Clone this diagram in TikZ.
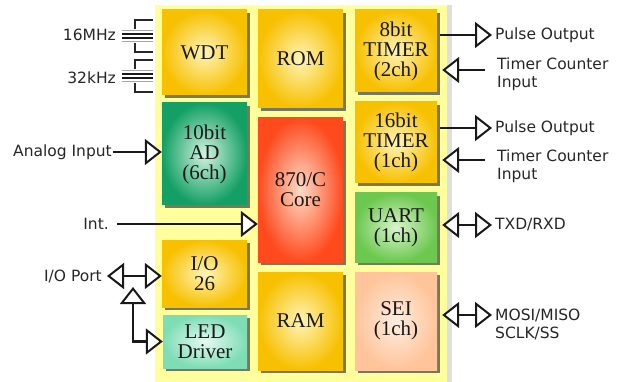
\documentclass[tikz,border=0pt]{standalone}
\usepackage{fontspec}
\setmainfont{Liberation Serif}
\newfontfamily\labelfont{DejaVu Sans}
\usetikzlibrary{arrows.meta,shadows}

\definecolor{plate}{HTML}{FFFF9E}
\definecolor{goldin}{HTML}{FFF4B8}
\definecolor{goldout}{HTML}{F7C000}
\definecolor{adin}{HTML}{D2F3E0}
\definecolor{adout}{HTML}{14A064}
\definecolor{corein}{HTML}{FFDCC8}
\definecolor{coreout}{HTML}{FF4A1E}
\definecolor{uartin}{HTML}{DAF3CE}
\definecolor{uartout}{HTML}{6CC84E}
\definecolor{ledin}{HTML}{E4FAF1}
\definecolor{ledout}{HTML}{7EDDB5}
\definecolor{seiin}{HTML}{FFEDE0}
\definecolor{seiout}{HTML}{FFC49A}

\begin{document}
\begin{tikzpicture}[x=1pt,y=-1pt,
  >={Triangle[length=17pt,width=26pt,line width=2pt,fill=white]},
  block/.style={draw=none, align=center, inner sep=0pt, text=black!90,
    font=\fontsize{21}{20}\selectfont,
    drop shadow={shadow xshift=3pt,shadow yshift=-3pt,fill=black!75,opacity=.7}},
  gold/.style={inner color=goldin, outer color=goldout},
  sig/.style={line width=2.5pt, black!90},
  lbl/.style={font=\labelfont\fontsize{15.5}{18}\selectfont, text=black!85, inner sep=1pt, align=left}]
	\useasboundingbox (0,0) rectangle (621,382);
	%chip plate
	\node[fill=plate, minimum width=292pt, minimum height=380pt,
	  drop shadow={shadow xshift=5pt,shadow yshift=0pt,opacity=.25}] (chip) at (301,195) {};
	%left column
	\node[block, gold, minimum width=85pt, minimum height=85pt] (wdt) at (204.5,52.5) {WDT};
	\node[block, inner color=adin, outer color=adout, minimum width=85pt, minimum height=102pt] (ad) at (204.5,154) {10bit\\AD\\(6ch)};
	\node[block, gold, minimum width=85pt, minimum height=67pt] (io) at (204.5,273.5) {I/O\\26};
	\node[block, inner color=ledin, outer color=ledout, minimum width=84pt, minimum height=53pt] (led) at (205,341.5) {LED\\Driver};
	%middle column
	\node[block, gold, minimum width=85pt, minimum height=98pt] (rom) at (300.5,59) {ROM};
	\node[block, inner color=corein, outer color=coreout, minimum width=85pt, minimum height=144pt] (core) at (300.5,190) {870/C\\Core};
	\node[block, gold, minimum width=85pt, minimum height=98pt] (ram) at (300.5,321) {RAM};
	%right column
	\node[block, gold, minimum width=82pt, minimum height=82pt] (timer8) at (396,51) {8bit\\TIMER\\(2ch)};
	\node[block, gold, minimum width=82pt, minimum height=81pt] (timer16) at (396,142.5) {16bit\\TIMER\\(1ch)};
	\node[block, inner color=uartin, outer color=uartout, minimum width=82pt, minimum height=69pt] (uart) at (396,227.5) {UART\\(1ch)};
	\node[block, inner color=seiin, outer color=seiout, minimum width=82pt, minimum height=98pt] (sei) at (396,321) {SEI\\(1ch)};
	%crystals
	\foreach \cy in {36,76}{
		\draw[line width=1.5pt, black!85] (153,\cy-16) -- (135,\cy-16) -- (135,\cy-7);
		\draw[line width=1.5pt, black!85] (135,\cy+7) -- (135,\cy+16) -- (153,\cy+16);
		\draw[line width=1.5pt, black!35] (122,\cy-5.5) -- (153,\cy-5.5);
		\draw[line width=2pt, black!90] (122,\cy-2) -- (153,\cy-2);
		\draw[line width=2pt, black!90] (122,\cy+2) -- (153,\cy+2);
		\draw[line width=1.5pt, black!35] (122,\cy+5.5) -- (153,\cy+5.5);
	}
	\node[lbl, anchor=east] (xtal16) at (117,35) {16MHz};
	\node[lbl, anchor=east] (xtal32) at (117,78) {32kHz};
	%left signals
	\node[lbl, anchor=east] (analog) at (113,152) {Analog Input};
	\draw[sig,->] (analog.east) -- (analog.east -| ad.west);
	\node[lbl, anchor=east] (int) at (110,224) {Int.};
	\draw[sig,->, shorten <=7pt] (int.east) -- (int.east -| core.west);
	\node[lbl, anchor=east] (ioport) at (103,276) {I/O Port};
	\draw[sig,<->, shorten <=4pt] (ioport.east) -- (ioport.east -| io.west);
	\coordinate (iojoin) at (133,287);
	\draw[sig,<->] (iojoin) |- (led.west);
	%right signals
	\node[lbl, anchor=west] (pulse8) at (494,35) {Pulse Output};
	\draw[sig,->, shorten <=3pt, shorten >=2pt] (pulse8.west -| timer8.east) -- (pulse8.west);
	\node[lbl, anchor=west] (count8) at (496,74) {Timer Counter\\Input};
	\coordinate (count8in) at (485,70);
	\draw[sig,->, shorten >=5pt] (count8in) -- (count8in -| timer8.east);
	\node[lbl, anchor=west] (pulse16) at (494,128) {Pulse Output};
	\draw[sig,->, shorten <=3pt, shorten >=2pt] (pulse16.west -| timer16.east) -- (pulse16.west);
	\node[lbl, anchor=west] (count16) at (496,166) {Timer Counter\\Input};
	\coordinate (count16in) at (485,160);
	\draw[sig,->, shorten >=5pt] (count16in) -- (count16in -| timer16.east);
	\node[lbl, anchor=west] (txd) at (494,225) {TXD/RXD};
	\draw[sig,<->, shorten <=5pt, shorten >=2pt] (txd.west -| uart.east) -- (txd.west);
	\node[lbl, anchor=west] (spi) at (494,324) {MOSI/MISO\\SCLK/SS};
	\coordinate (spiin) at (494,315);
	\draw[sig,<->, shorten <=5pt, shorten >=2pt] (spiin -| sei.east) -- (spiin);
\end{tikzpicture}
\end{document}
